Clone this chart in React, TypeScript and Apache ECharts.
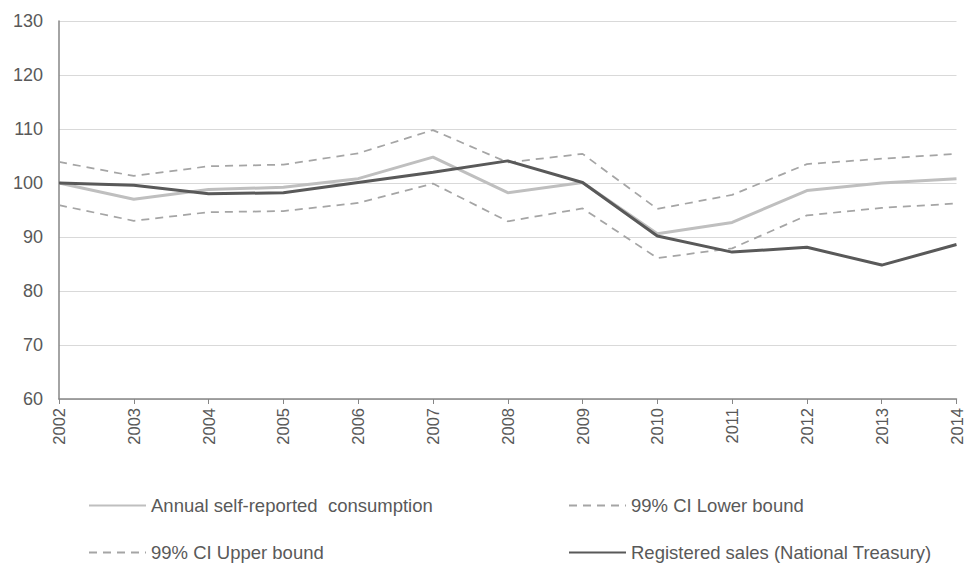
import React, { useEffect, useRef } from "react";
import * as echarts from "echarts";

const years = ["2002","2003","2004","2005","2006","2007","2008","2009","2010","2011","2012","2013","2014"];
const selfReported = [100, 97.0, 98.8, 99.2, 100.8, 104.8, 98.2, 100.1, 90.6, 92.7, 98.6, 100.0, 100.8];
const lowerBound = [95.9, 93.0, 94.6, 94.8, 96.3, 99.9, 92.9, 95.3, 86.1, 87.9, 94.0, 95.4, 96.2];
const upperBound = [103.9, 101.3, 103.1, 103.4, 105.5, 109.8, 103.8, 105.4, 95.2, 97.8, 103.5, 104.5, 105.4];
const registeredSales = [100, 99.6, 98.0, 98.2, 100.1, 102.0, 104.1, 100.1, 90.2, 87.2, 88.1, 84.8, 88.6];

const names = [
  "Annual self-reported  consumption",
  "99% CI Lower bound",
  "99% CI Upper bound",
  "Registered sales (National Treasury)",
];

const FONT = "'Liberation Sans', Arial, sans-serif";

export default function App() {
  const ref = useRef<HTMLDivElement>(null);
  useEffect(() => {
    if (!ref.current) return;
    const chart = echarts.init(ref.current, null, { renderer: "svg" });
    const legendBase = {
      orient: "horizontal",
      itemWidth: 57,
      itemHeight: 12,
      itemGap: 6,
      textStyle: { color: "#595959", fontSize: 18.5, fontFamily: FONT },
      itemStyle: { opacity: 0 },
      selectedMode: false,
      padding: 0,
    };
    chart.setOption({
      animation: false,
      backgroundColor: "#ffffff",
      grid: { left: 59, right: 4, top: 21, bottom: 164, containLabel: false },
      legend: [
        { ...legendBase, data: [names[0]], left: 88, top: 496 },
        { ...legendBase, data: [names[1]], left: 568, top: 496 },
        { ...legendBase, data: [names[2]], left: 88, top: 543 },
        { ...legendBase, data: [names[3]], left: 568, top: 543 },
      ],
      xAxis: {
        type: "category",
        data: years,
        boundaryGap: false,
        axisLine: { lineStyle: { color: "#868686", width: 1.5 } },
        axisTick: { show: true, alignWithLabel: true, length: 5, lineStyle: { color: "#868686" } },
        axisLabel: { rotate: 90, color: "#595959", fontSize: 16.5, fontFamily: FONT, margin: 9 },
        splitLine: { show: false },
      },
      yAxis: {
        type: "value",
        min: 60,
        max: 130,
        interval: 10,
        axisLine: { show: true, lineStyle: { color: "#868686", width: 1.5 } },
        axisTick: { show: false },
        axisLabel: { color: "#595959", fontSize: 18, fontFamily: FONT, margin: 16 },
        splitLine: { lineStyle: { color: "#d9d9d9", width: 1 } },
      },
      series: [
        {
          name: names[0], type: "line", data: selfReported, symbol: "none",
          lineStyle: { color: "#bfbfbf", width: 3 }, itemStyle: { color: "#bfbfbf" }, z: 3,
        },
        {
          name: names[1], type: "line", data: lowerBound, symbol: "none",
          lineStyle: { color: "#a5a5a5", width: 1.75, type: [8, 6] }, itemStyle: { color: "#a5a5a5" }, z: 2,
        },
        {
          name: names[2], type: "line", data: upperBound, symbol: "none",
          lineStyle: { color: "#a5a5a5", width: 1.75, type: [8, 6] }, itemStyle: { color: "#a5a5a5" }, z: 2,
        },
        {
          name: names[3], type: "line", data: registeredSales, symbol: "none",
          lineStyle: { color: "#595959", width: 3 }, itemStyle: { color: "#595959" }, z: 4,
        },
      ],
    });
    return () => chart.dispose();
  }, []);
  return (
    <div
      ref={ref}
      style={{ position: "absolute", left: 0, top: 0, width: 965, height: 563 }}
    />
  );
}
